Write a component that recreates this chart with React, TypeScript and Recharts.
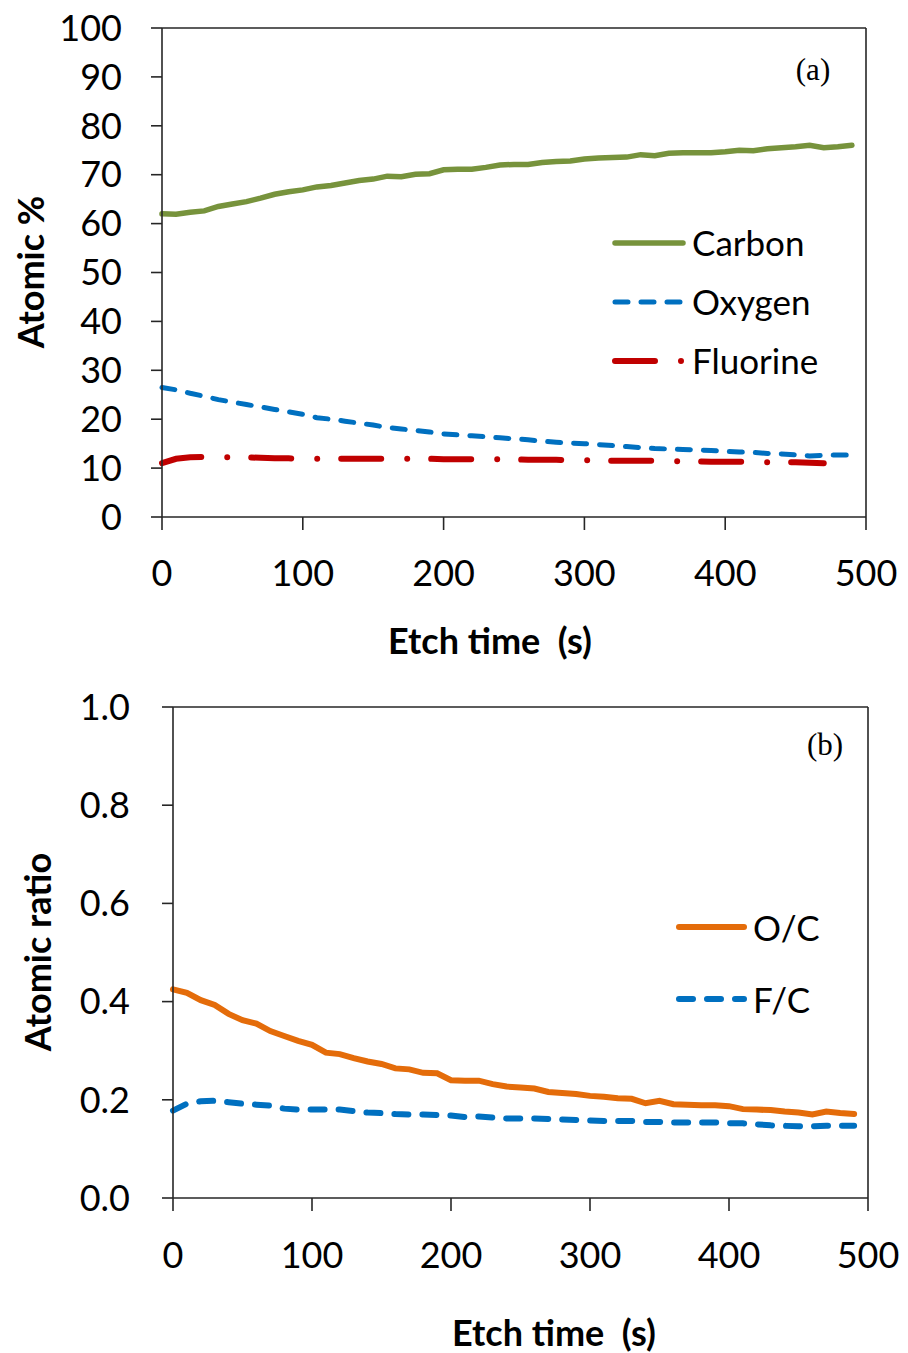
import React from 'react'
import { Legend, Line, LineChart, ReferenceLine, XAxis, YAxis } from 'recharts'

// Etch time (s) for every sample
const etchTime = [
  0, 10, 20, 30, 40, 50, 60, 70, 80, 90, 100, 110, 120, 130, 140, 150, 160,
  170, 180, 190, 200, 210, 220, 230, 240, 250, 260, 270, 280, 290, 300, 310,
  320, 330, 340, 350, 360, 370, 380, 390, 400, 410, 420, 430, 440, 450, 460,
  470, 480, 490,
]

// Atomic % per element
const carbon = [
  62.0, 61.9, 62.3, 62.6, 63.5, 64.0, 64.5, 65.2, 66.0, 66.5, 66.9, 67.5,
  67.8, 68.3, 68.8, 69.1, 69.7, 69.6, 70.1, 70.2, 71.0, 71.1, 71.1, 71.5,
  72.0, 72.1, 72.1, 72.5, 72.7, 72.8, 73.2, 73.4, 73.5, 73.6, 74.1, 73.9,
  74.4, 74.5, 74.5, 74.5, 74.7, 75.0, 74.9, 75.3, 75.5, 75.7, 76.0, 75.5,
  75.7, 76.0,
]
const oxygen = [
  26.5, 26.0, 25.3, 24.7, 24.0, 23.5, 23.0, 22.5, 22.0, 21.5, 21.0, 20.3,
  20.0, 19.6, 19.2, 18.8, 18.3, 18.0, 17.7, 17.4, 17.0, 16.8, 16.6, 16.4,
  16.2, 16.0, 15.8, 15.5, 15.3, 15.1, 15.0, 14.8, 14.6, 14.4, 14.2, 14.0,
  13.9, 13.8, 13.7, 13.6, 13.4, 13.3, 13.2, 13.0, 12.9, 12.7, 12.5, 12.6,
  12.7, 12.7,
]
const fluorine = [
  11.0, 11.9, 12.2, 12.3, 12.3, 12.2, 12.2, 12.1, 12.0, 12.0, 11.9, 11.9,
  11.9, 11.9, 11.9, 11.9, 11.9, 11.9, 11.9, 11.9, 11.8, 11.8, 11.8, 11.8,
  11.8, 11.8, 11.7, 11.7, 11.7, 11.6, 11.6, 11.6, 11.5, 11.5, 11.5, 11.5,
  11.4, 11.4, 11.4, 11.3, 11.3, 11.3, 11.3, 11.2, 11.2, 11.2, 11.1, 11.0,
]

// Atomic ratios
const ocRatio = [
  0.425, 0.418, 0.403, 0.393, 0.375, 0.362, 0.355, 0.34, 0.33, 0.32, 0.312,
  0.296, 0.293, 0.285, 0.278, 0.273, 0.264, 0.262, 0.255, 0.254, 0.24, 0.239,
  0.239, 0.232, 0.227, 0.225, 0.223, 0.216, 0.214, 0.212, 0.208, 0.206,
  0.203, 0.202, 0.193, 0.198, 0.191, 0.19, 0.189, 0.189, 0.187, 0.181, 0.18,
  0.179, 0.176, 0.174, 0.17, 0.176, 0.173, 0.171,
]
const fcRatio = [
  0.178, 0.192, 0.197, 0.198, 0.195, 0.192, 0.19, 0.188, 0.182, 0.18, 0.18,
  0.18, 0.18, 0.177, 0.174, 0.173, 0.171, 0.17, 0.17, 0.169, 0.168, 0.165,
  0.166, 0.164, 0.162, 0.162, 0.162, 0.161, 0.16, 0.159, 0.158, 0.157, 0.157,
  0.157, 0.155, 0.155, 0.154, 0.154, 0.154, 0.154, 0.152, 0.152, 0.15, 0.148,
  0.147, 0.146, 0.146, 0.147, 0.147, 0.147,
]

const timeTicks = [0, 100, 200, 300, 400, 500]
const percentTicks = [0, 10, 20, 30, 40, 50, 60, 70, 80, 90, 100]
const ratioTicks = [0, 0.2, 0.4, 0.6, 0.8, 1.0]

const compositionData = etchTime.map((t, i) => ({
  t,
  carbon: carbon[i],
  oxygen: oxygen[i],
  fluorine: fluorine[i] ?? null,
}))

const ratioData = etchTime.map((t, i) => ({
  t,
  oc: ocRatio[i],
  fc: fcRatio[i],
}))

const FONT = 'Lato, "Open Sans", sans-serif'
const AXIS = '#262626'
const tickStyle = { fill: '#000', fontSize: 36, fontFamily: FONT }

type Series = {
  key: string
  name: string
  color: string
  width: number
  dash?: string
}

const compositionSeries: Series[] = [
  { key: 'carbon', name: 'Carbon', color: '#77933C', width: 5.5 },
  { key: 'oxygen', name: 'Oxygen', color: '#0070C0', width: 5, dash: '13 13' },
  { key: 'fluorine', name: 'Fluorine', color: '#C00000', width: 6, dash: '40 26 0 24' },
]

const ratioSeries: Series[] = [
  { key: 'oc', name: 'O/C', color: '#E46C0A', width: 6 },
  { key: 'fc', name: 'F/C', color: '#0070C0', width: 6, dash: '14 14' },
]

function LegendRows({ series, rowHeight, lineLen }: { series: Series[]; rowHeight: number; lineLen: number }) {
  return (
    <div style={{ fontFamily: FONT, fontSize: 35, color: '#000' }}>
      {series.map((s) => (
        <div key={s.key} style={{ display: 'flex', alignItems: 'center', height: rowHeight }}>
          <svg width={lineLen + 12} height={14} style={{ flex: 'none' }}>
            <line
              x1={6}
              x2={6 + lineLen}
              y1={7}
              y2={7}
              stroke={s.color}
              strokeWidth={s.width}
              strokeLinecap="round"
              strokeDasharray={s.dash}
            />
          </svg>
          <span style={{ marginLeft: 3, lineHeight: 1 }}>{s.name}</span>
        </div>
      ))}
    </div>
  )
}

function Title({ text, x, y, rotate }: { text: string; x: number; y: number; rotate?: boolean }) {
  return (
    <div
      style={{
        position: 'absolute',
        left: x,
        top: y,
        transform: `translate(-50%, -50%)${rotate ? ' rotate(-90deg)' : ''}`,
        whiteSpace: 'pre',
        fontFamily: FONT,
        fontWeight: 700,
        fontSize: 36,
        color: '#000',
      }}
    >
      {text}
    </div>
  )
}

function PanelTag({ text, x, y }: { text: string; x: number; y: number }) {
  return (
    <div
      style={{
        position: 'absolute',
        left: x,
        top: y,
        transform: 'translate(-50%, -50%)',
        fontFamily: '"Liberation Serif", "Times New Roman", serif',
        fontSize: 31,
        color: '#000',
      }}
    >
      {text}
    </div>
  )
}

export default function App() {
  return (
    <div style={{ position: 'absolute', left: 0, top: 0, width: 908, height: 1353, background: '#fff' }}>
      {/* (a) atomic composition */}
      <div style={{ position: 'absolute', left: 0, top: 0 }}>
        <LineChart width={908} height={680} data={compositionData} margin={{ top: 28, right: 42, bottom: 0, left: 0 }}>
          <XAxis
            dataKey="t"
            type="number"
            domain={[0, 500]}
            ticks={timeTicks}
            interval={0}
            height={163}
            tick={tickStyle}
            tickSize={13}
            tickMargin={30}
            stroke={AXIS}
            strokeWidth={1.6}
          />
          <YAxis
            type="number"
            domain={[0, 100]}
            ticks={percentTicks}
            interval={0}
            width={162}
            tick={tickStyle}
            tickSize={11}
            tickMargin={29}
            stroke={AXIS}
            strokeWidth={1.6}
          />
          <ReferenceLine y={100} stroke={AXIS} strokeWidth={1.6} />
          <ReferenceLine x={500} stroke={AXIS} strokeWidth={1.6} />
          {compositionSeries.map((s) => (
            <Line
              key={s.key}
              dataKey={s.key}
              name={s.name}
              type="linear"
              stroke={s.color}
              strokeWidth={s.width}
              strokeDasharray={s.dash}
              strokeLinecap="round"
              dot={false}
              isAnimationActive={false}
            />
          ))}
          <Legend
            layout="vertical"
            align="center"
            verticalAlign="middle"
            wrapperStyle={{ left: 609, top: 213, width: 280 }}
            content={() => <LegendRows series={compositionSeries} rowHeight={59} lineLen={68} />}
          />
        </LineChart>
      </div>
      <Title text="Atomic %" x={30} y={272} rotate />
      <Title text="Etch time  (s)" x={490} y={640} />
      <PanelTag text="(a)" x={813} y={70} />

      {/* (b) atomic ratios */}
      <div style={{ position: 'absolute', left: 0, top: 680 }}>
        <LineChart width={908} height={673} data={ratioData} margin={{ top: 27, right: 40, bottom: 0, left: 0 }}>
          <XAxis
            dataKey="t"
            type="number"
            domain={[0, 500]}
            ticks={timeTicks}
            interval={0}
            height={155}
            tick={tickStyle}
            tickSize={13}
            tickMargin={31}
            stroke={AXIS}
            strokeWidth={1.6}
          />
          <YAxis
            type="number"
            domain={[0, 1]}
            ticks={ratioTicks}
            interval={0}
            width={173}
            tick={tickStyle}
            tickSize={11}
            tickMargin={32}
            tickFormatter={(v: number) => v.toFixed(1)}
            stroke={AXIS}
            strokeWidth={1.6}
          />
          <ReferenceLine y={1} stroke={AXIS} strokeWidth={1.6} />
          <ReferenceLine x={500} stroke={AXIS} strokeWidth={1.6} />
          {ratioSeries.map((s) => (
            <Line
              key={s.key}
              dataKey={s.key}
              name={s.name}
              type="linear"
              stroke={s.color}
              strokeWidth={s.width}
              strokeDasharray={s.dash}
              strokeLinecap="round"
              dot={false}
              isAnimationActive={false}
            />
          ))}
          <Legend
            layout="vertical"
            align="center"
            verticalAlign="middle"
            wrapperStyle={{ left: 673, top: 211, width: 220 }}
            content={() => <LegendRows series={ratioSeries} rowHeight={72} lineLen={65} />}
          />
        </LineChart>
      </div>
      <Title text="Atomic ratio" x={37} y={952} rotate />
      <Title text="Etch time  (s)" x={554} y={1332} />
      <PanelTag text="(b)" x={825} y={745} />
    </div>
  )
}
